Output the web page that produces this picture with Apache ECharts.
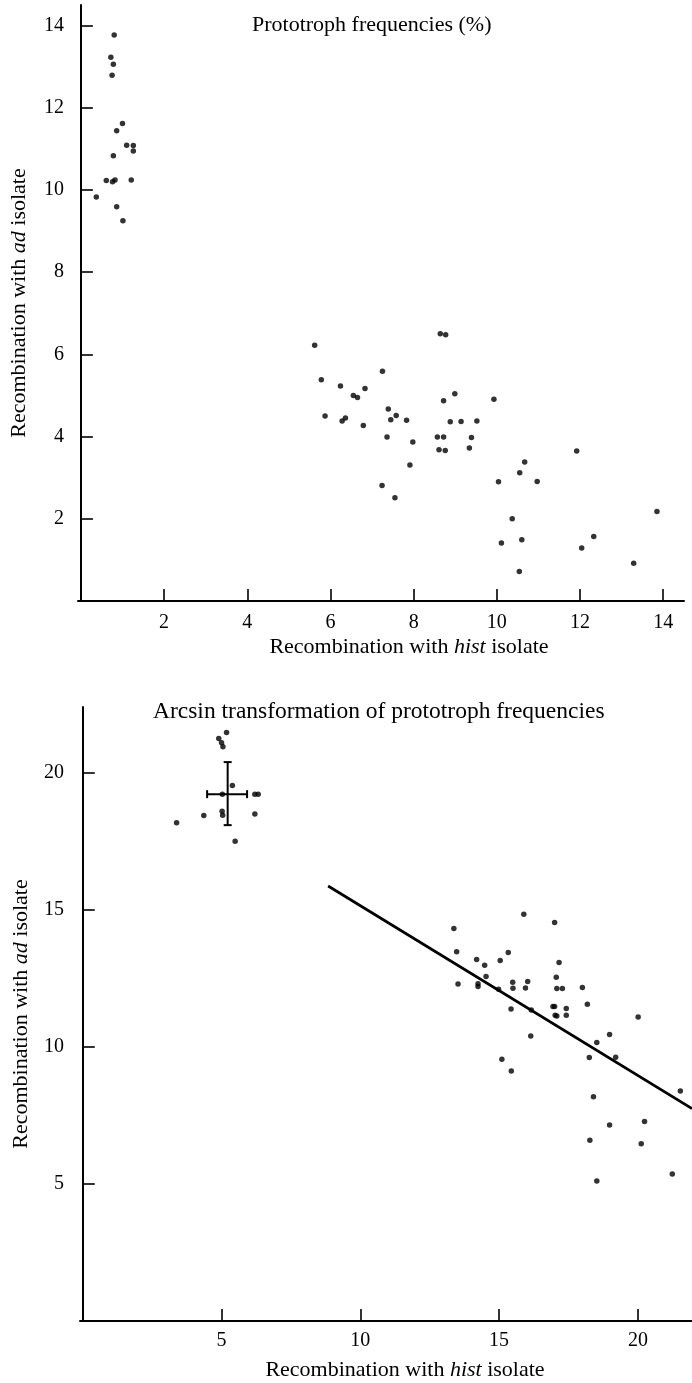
<!DOCTYPE html>
<html><head><meta charset="utf-8">
<script src="https://cdn.jsdelivr.net/npm/echarts@6/dist/echarts.min.js"></script>
<style>html,body{margin:0;padding:0;background:#fff}#c{width:692px;height:1383px}</style>
</head><body><div id="c"></div>
<script>
// Top panel: prototroph frequencies (%)
const topHistX = [0.80,0.72,0.78,0.75,1.00,0.86,1.10,1.26,1.26,0.78,0.61,0.76,0.82,1.21,0.37,0.86,1.01,
  5.62,5.78,6.24,6.83,6.55,6.65,7.25,5.87,6.28,6.36,6.79,7.39,7.45,7.58,7.83,7.36,7.98,7.91,7.24,7.55,
  8.64,8.77,8.99,8.72,8.88,9.14,9.52,8.57,8.72,9.39,8.61,8.76,9.34,9.93,10.04,10.67,10.55,10.97,11.92,
  10.37,10.11,10.60,10.54,12.04,12.33,13.85,13.29];
const topAdY = [13.77,13.23,13.06,12.79,11.62,11.44,11.09,11.08,10.95,10.83,10.23,10.20,10.24,10.24,9.83,9.59,9.25,
  6.22,5.38,5.23,5.17,5.00,4.95,5.59,4.50,4.38,4.45,4.27,4.67,4.41,4.51,4.40,3.99,3.87,3.31,2.81,2.51,
  6.50,6.48,5.04,4.87,4.36,4.37,4.38,3.99,3.99,3.98,3.68,3.66,3.72,4.91,2.90,3.38,3.12,2.91,3.65,
  2.00,1.41,1.49,0.72,1.29,1.57,2.18,0.92];
// Bottom panel: arcsin transformation
const botHistX = [5.18,4.90,5.00,5.05,5.39,5.03,6.20,6.32,4.36,3.38,5.02,5.04,6.20,5.49,
  15.89,17.00,13.37,13.47,14.19,14.48,15.33,15.04,14.53,13.52,14.24,14.24,14.98,15.49,15.50,16.03,15.95,
  17.16,17.06,17.08,17.28,18.00,15.43,16.16,16.94,17.00,17.02,17.08,17.42,17.42,18.18,20.01,16.14,
  18.52,18.98,18.25,19.20,15.10,15.44,18.40,21.53,18.98,20.24,18.27,20.12,21.24,18.52];
const botAdY = [21.47,21.25,21.10,20.95,19.54,19.22,19.22,19.22,18.44,18.18,18.60,18.45,18.50,17.50,
  14.84,14.54,14.32,13.47,13.19,12.98,13.44,13.15,12.57,12.29,12.30,12.20,12.10,12.36,12.14,12.39,12.15,
  13.08,12.54,12.13,12.13,12.17,11.38,11.35,11.47,11.47,11.15,11.13,11.40,11.15,11.56,11.09,10.40,
  10.16,10.45,9.61,9.62,9.55,9.12,8.18,8.39,7.15,7.28,6.59,6.47,5.36,5.11];
const fitLineX = [8.84, 21.95];
const fitLineY = [15.87, 7.75];
const errCenter = [5.22, 19.22];
const errXRange = [4.48, 5.92];
const errYRange = [18.09, 20.39];
const topXTicks = [2,4,6,8,10,12,14];
const topYTicks = [2,4,6,8,10,12,14];
const botXTicks = [5,10,15,20];
const botYTicks = [5,10,15,20];

const FONT = 'Liberation Serif';
const zip = (a,b) => a.map((v,i)=>[v,b[i]]);
const axisCommon = (ticks) => ({
  axisLine:{show:true, lineStyle:{color:'#000', width:2}},
  axisTick:{show:true, inside:true, length:12, lineStyle:{color:'#000', width:1.6}, customValues:ticks},
  axisLabel:{color:'#000', fontFamily:FONT, fontSize:20, customValues:ticks},
  splitLine:{show:false}
});
const nameStyle = (pad) => ({color:'#000', fontFamily:FONT, fontSize:22, padding:pad,
  rich:{i:{fontStyle:'italic', fontFamily:FONT, fontSize:22, color:'#000'}}});

const chart = echarts.init(document.getElementById('c'), null, {renderer:'canvas'});
chart.setOption({
  animation:false,
  backgroundColor:'#fff',
  title:[
    {text:'Prototroph frequencies (%)', left:247, top:9, textStyle:{fontFamily:FONT, fontWeight:'normal', fontSize:22, color:'#000'}},
    {text:'Arcsin transformation of prototroph frequencies', left:148, top:695, textStyle:{fontFamily:FONT, fontWeight:'normal', fontSize:23.5, color:'#000'}}
  ],
  grid:[
    {left:77, top:5, width:607, height:596},
    {left:80, top:707, width:612, height:614}
  ],
  xAxis:[
    Object.assign({type:'value', gridIndex:0, min:-0.07, max:14.5,
      name:'Recombination with {i|hist} isolate', nameLocation:'middle', nameGap:35,
      nameTextStyle:nameStyle([0,0,0,56])}, axisCommon(topXTicks), {axisLabel:{color:'#000', fontFamily:FONT, fontSize:20, margin:12, customValues:topXTicks}}),
    Object.assign({type:'value', gridIndex:1, min:-0.1, max:21.95,
      name:'Recombination with {i|hist} isolate', nameLocation:'middle', nameGap:38,
      nameTextStyle:nameStyle([0,0,0,38])}, axisCommon(botXTicks), {axisLabel:{color:'#000', fontFamily:FONT, fontSize:20, margin:10, customValues:botXTicks}})
  ],
  yAxis:[
    Object.assign({type:'value', gridIndex:0, min:0, max:14.5,
      name:'Recombination with {i|ad} isolate', nameLocation:'middle', nameGap:48, nameRotate:90,
      nameTextStyle:nameStyle(0)}, axisCommon(topYTicks), {axisLabel:{color:'#000', fontFamily:FONT, fontSize:20, margin:14, customValues:topYTicks}}),
    Object.assign({type:'value', gridIndex:1, min:0, max:22.4,
      name:'Recombination with {i|ad} isolate', nameLocation:'middle', nameGap:48, nameRotate:90,
      nameTextStyle:nameStyle(0)}, axisCommon(botYTicks), {axisLabel:{color:'#000', fontFamily:FONT, fontSize:20, margin:16, customValues:botYTicks}})
  ],
  series:[
    {type:'scatter', xAxisIndex:0, yAxisIndex:0, symbol:'circle', symbolSize:5.5,
      itemStyle:{color:'#000'}, data:zip(topHistX, topAdY)},
    {type:'scatter', xAxisIndex:1, yAxisIndex:1, symbol:'circle', symbolSize:5.5,
      itemStyle:{color:'#000'}, data:zip(botHistX, botAdY)},
    {type:'line', xAxisIndex:1, yAxisIndex:1, symbol:'none', silent:true,
      lineStyle:{color:'#000', width:2.7}, data:zip(fitLineX, fitLineY)},
    {type:'custom', xAxisIndex:1, yAxisIndex:1, silent:true,
      encode:{x:[0,2,3], y:[1,4,5]},
      data:[[errCenter[0], errCenter[1], errXRange[0], errXRange[1], errYRange[0], errYRange[1]]],
      renderItem:function(params, api){
        const l = api.coord([api.value(2), api.value(1)]);
        const r = api.coord([api.value(3), api.value(1)]);
        const b = api.coord([api.value(0), api.value(4)]);
        const t = api.coord([api.value(0), api.value(5)]);
        const cap = 4;
        const st = {stroke:'#000', lineWidth:2};
        return {type:'group', children:[
          {type:'line', shape:{x1:l[0], y1:l[1], x2:r[0], y2:r[1]}, style:st},
          {type:'line', shape:{x1:t[0], y1:t[1], x2:b[0], y2:b[1]}, style:st},
          {type:'line', shape:{x1:l[0], y1:l[1]-cap, x2:l[0], y2:l[1]+cap}, style:st},
          {type:'line', shape:{x1:r[0], y1:r[1]-cap, x2:r[0], y2:r[1]+cap}, style:st},
          {type:'line', shape:{x1:t[0]-cap, y1:t[1], x2:t[0]+cap, y2:t[1]}, style:st},
          {type:'line', shape:{x1:b[0]-cap, y1:b[1], x2:b[0]+cap, y2:b[1]}, style:st}
        ]};
      }}
  ]
});
</script></body></html>
